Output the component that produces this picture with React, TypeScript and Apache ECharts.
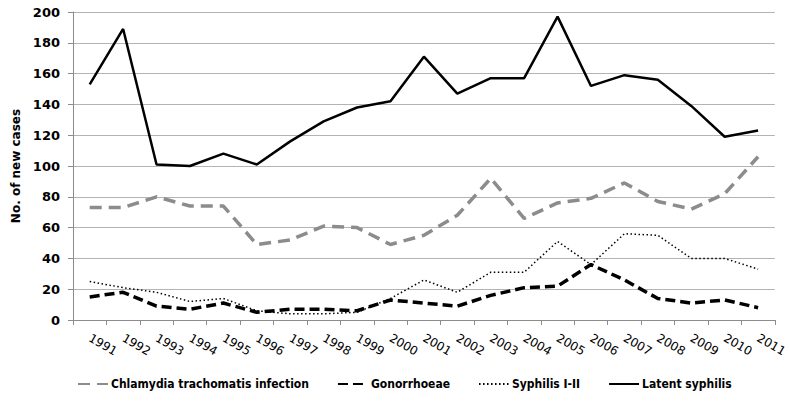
import React, { useEffect, useRef } from "react";
import * as echarts from "echarts";

const years = ["1991","1992","1993","1994","1995","1996","1997","1998","1999","2000","2001","2002","2003","2004","2005","2006","2007","2008","2009","2010","2011"];
const chlamydia = [73, 73, 80, 74, 74, 49, 52, 61, 60, 49, 55, 68, 92, 66, 76, 79, 89, 77, 72, 82, 106];
const gonorrhoeae = [15, 18, 9, 7, 11, 5, 7, 7, 6, 13, 11, 9, 16, 21, 22, 36, 26, 14, 11, 13, 8];
const syphilis12 = [25, 21, 18, 12, 14, 6, 4, 4, 5, 14, 26, 18, 31, 31, 51, 36, 56, 55, 40, 40, 33];
const latent = [153, 189, 101, 100, 108, 101, 116, 129, 138, 142, 171, 147, 157, 157, 197, 152, 159, 156, 139, 119, 123];
const seriesNames = ["Chlamydia trachomatis infection", "Gonorrhoeae", "Syphilis I-II", "Latent syphilis"];

export default function App() {
  const ref = useRef<HTMLDivElement>(null);
  useEffect(() => {
    if (!ref.current) return;
    const chart = echarts.init(ref.current, null, { renderer: "svg" });
    const font = "DejaVu Sans";
    chart.setOption({
      animation: false,
      backgroundColor: "#ffffff",
      grid: { left: 73, right: 10, top: 12, bottom: 92 },
      legend: {
        bottom: 17,
        left: 72,
        itemWidth: 30,
        itemHeight: 12,
        itemGap: 28,
        itemStyle: { opacity: 0 },
        textStyle: { fontFamily: "DejaVu Sans Condensed", fontSize: 12, fontWeight: "bold", color: "#000", padding: [0, 0, 0, -2] },
        data: seriesNames,
      },
      xAxis: {
        type: "category",
        data: years,
        boundaryGap: true,
        axisLine: { lineStyle: { color: "#8c8c8c", width: 1 } },
        axisTick: { show: true, alignWithLabel: false, length: 5, lineStyle: { color: "#8c8c8c" } },
        axisLabel: {
          rotate: -30,
          margin: 17,
          interval: 0,
          fontFamily: font,
          fontSize: 12,
          color: "#000",
        },
      },
      yAxis: {
        type: "value",
        min: 0,
        max: 200,
        interval: 20,
        name: "No. of new cases",
        nameLocation: "middle",
        nameGap: 48,
        nameRotate: 90,
        nameTextStyle: { fontFamily: font, fontSize: 12, fontWeight: "bold", color: "#000" },
        axisLine: { show: true, lineStyle: { color: "#8c8c8c", width: 1 } },
        axisTick: { show: true, length: 5, lineStyle: { color: "#8c8c8c" } },
        axisLabel: { margin: 13, fontFamily: font, fontSize: 13, fontWeight: "bold", color: "#000" },
        splitLine: { lineStyle: { color: "#b4b4b4", width: 1 } },
      },
      series: [
        {
          name: seriesNames[0],
          type: "line",
          data: chlamydia,
          symbol: "none",
          itemStyle: { color: "#8c8c8c" },
          lineStyle: { color: "#8c8c8c", width: 3.5, type: [12, 7] },
          z: 2,
        },
        {
          name: seriesNames[1],
          type: "line",
          data: gonorrhoeae,
          symbol: "none",
          itemStyle: { color: "#000" },
          lineStyle: { color: "#000", width: 3.5, type: [10, 5] },
          z: 3,
        },
        {
          name: seriesNames[2],
          type: "line",
          data: syphilis12,
          symbol: "none",
          itemStyle: { color: "#000" },
          lineStyle: { color: "#000", width: 1.5, type: [1.5, 2.5] },
          z: 4,
        },
        {
          name: seriesNames[3],
          type: "line",
          data: latent,
          symbol: "none",
          itemStyle: { color: "#000" },
          lineStyle: { color: "#000", width: 2.5, type: "solid" },
          z: 5,
        },
      ],
    });
    return () => chart.dispose();
  }, []);
  return <div ref={ref} style={{ width: 790, height: 412, position: "absolute", left: 0, top: 0 }} />;
}
